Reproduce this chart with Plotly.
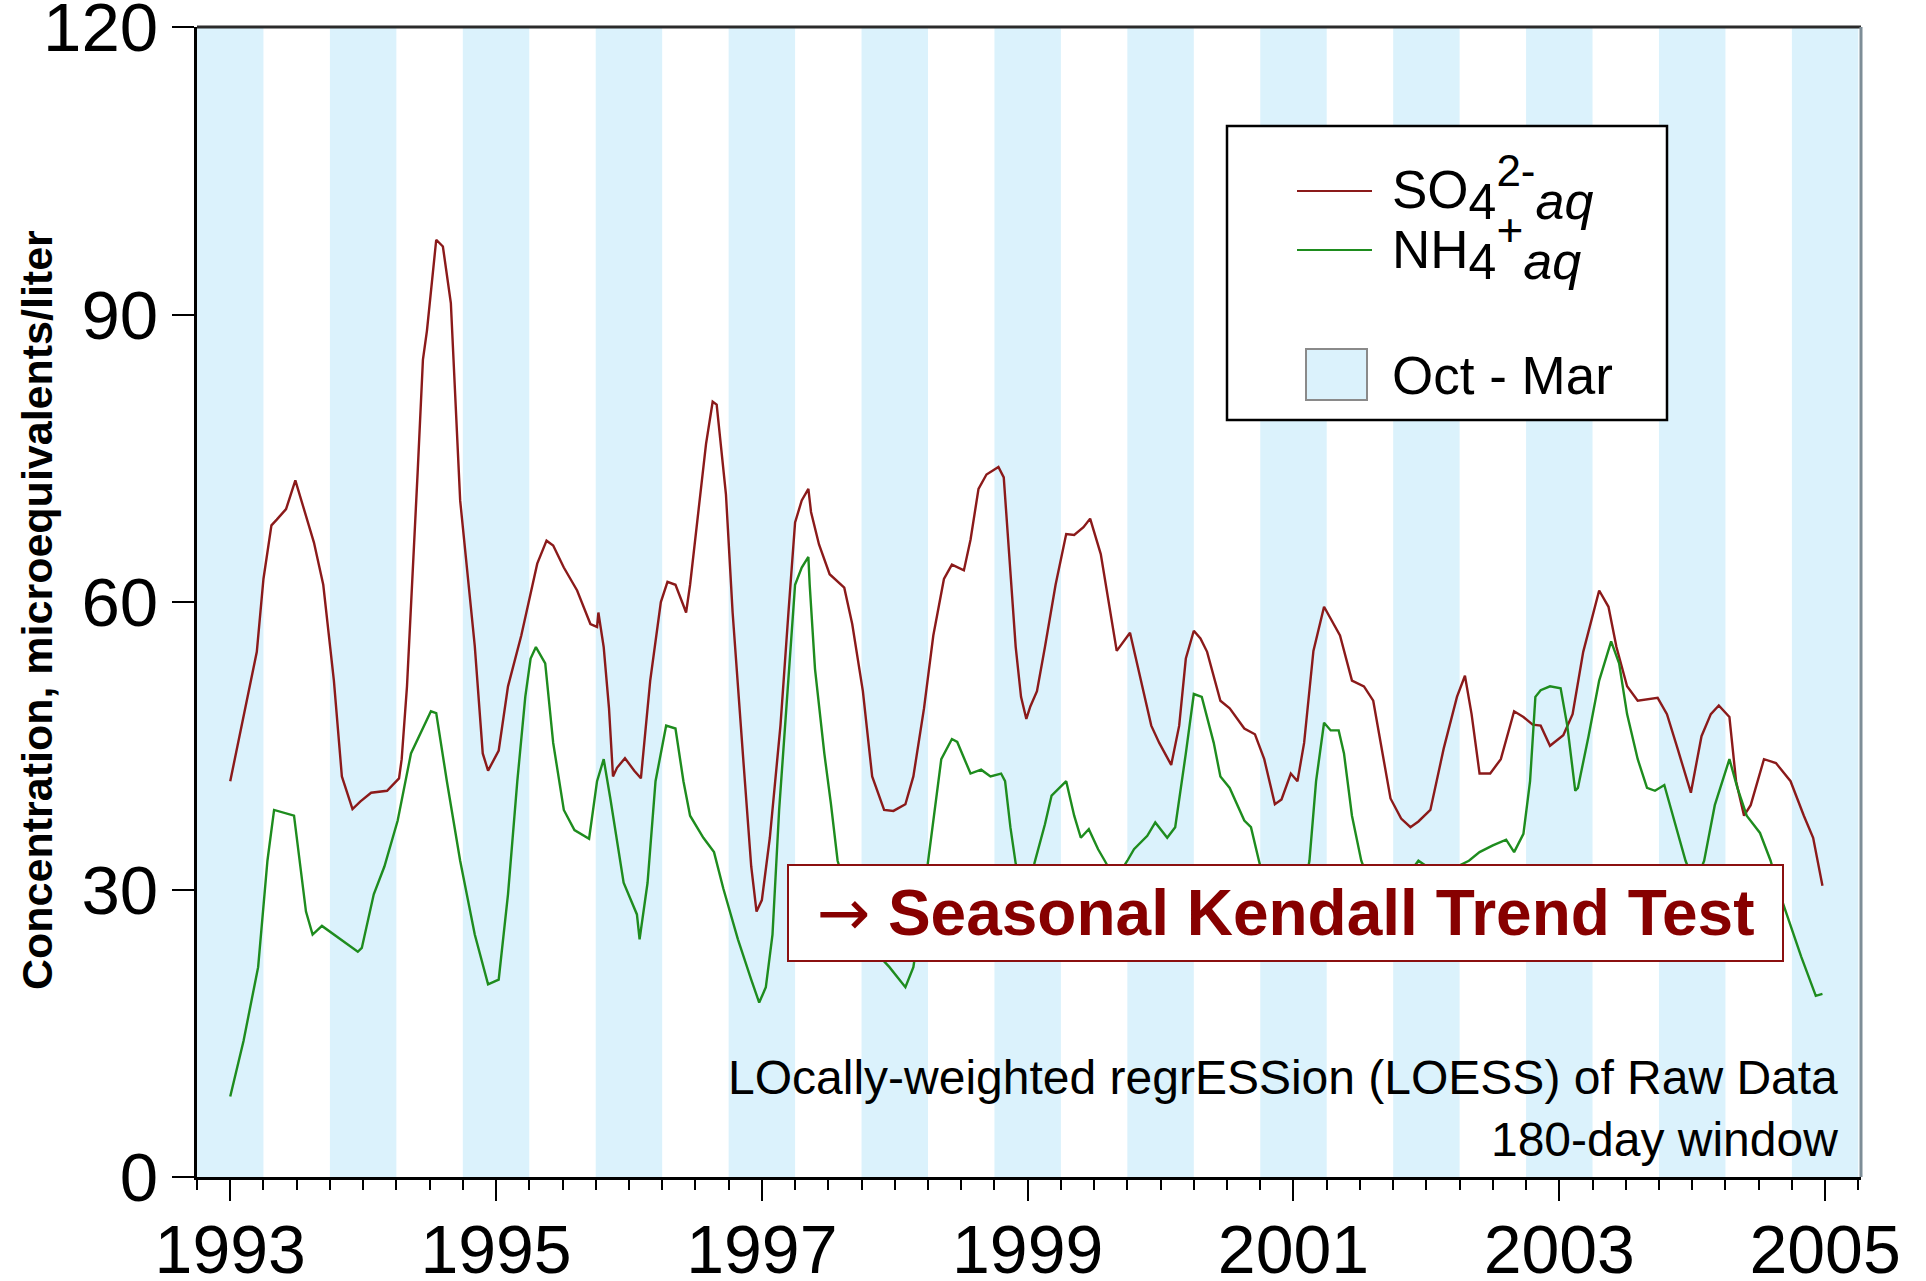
import plotly.graph_objects as go

# ---------------- data ----------------
so4_t = [1993.00, 1993.20, 1993.25, 1993.31, 1993.35, 1993.42, 1993.49, 1993.55, 1993.63, 1993.70,
         1993.78, 1993.84, 1993.92, 1993.98, 1994.06, 1994.18, 1994.27, 1994.29, 1994.33, 1994.41,
         1994.45, 1994.48, 1994.55, 1994.60, 1994.66, 1994.73, 1994.84, 1994.90, 1994.94, 1995.02,
         1995.09, 1995.19, 1995.31, 1995.38, 1995.43, 1995.51, 1995.61, 1995.71, 1995.76, 1995.77,
         1995.81, 1995.85, 1995.88, 1995.91, 1995.97, 1996.04, 1996.09, 1996.16, 1996.24, 1996.29,
         1996.35, 1996.40, 1996.43, 1996.46, 1996.53, 1996.58, 1996.63, 1996.66, 1996.73, 1996.78,
         1996.86, 1996.92, 1996.96, 1997.00, 1997.06, 1997.14, 1997.20, 1997.25, 1997.30, 1997.35,
         1997.37, 1997.43, 1997.51, 1997.62, 1997.68, 1997.76, 1997.83, 1997.92, 1997.99, 1998.08,
         1998.14, 1998.22, 1998.29, 1998.37, 1998.43, 1998.52, 1998.57, 1998.63, 1998.69, 1998.78,
         1998.82, 1998.86, 1998.91, 1998.95, 1998.99, 1999.02, 1999.07, 1999.13, 1999.21, 1999.29,
         1999.35, 1999.42, 1999.47, 1999.55, 1999.62, 1999.67, 1999.77, 1999.85, 1999.93, 1999.99,
         2000.08, 2000.14, 2000.19, 2000.25, 2000.30, 2000.35, 2000.45, 2000.52, 2000.63, 2000.71,
         2000.78, 2000.86, 2000.91, 2000.98, 2001.03, 2001.08, 2001.15, 2001.23, 2001.28, 2001.35,
         2001.44, 2001.53, 2001.60, 2001.67, 2001.73, 2001.81, 2001.88, 2001.94, 2002.03, 2002.13,
         2002.23, 2002.29, 2002.34, 2002.40, 2002.48, 2002.56, 2002.66, 2002.73, 2002.80, 2002.86,
         2002.93, 2003.03, 2003.10, 2003.18, 2003.30, 2003.37, 2003.43, 2003.51, 2003.59, 2003.74,
         2003.81, 2003.89, 2003.99, 2004.07, 2004.14, 2004.20, 2004.28, 2004.33, 2004.39, 2004.44,
         2004.54, 2004.63, 2004.74, 2004.84, 2004.91, 2004.98]
so4_v = [41.3, 54.8, 62.4, 68.0, 68.6, 69.7, 72.7, 70.0, 66.2, 61.8,
         51.8, 41.8, 38.4, 39.2, 40.1, 40.3, 41.6, 43.6, 51.2, 73.5,
         85.3, 88.3, 97.8, 97.1, 91.2, 70.6, 55.4, 44.2, 42.4, 44.5,
         51.2, 56.5, 64.0, 66.4, 65.9, 63.6, 61.2, 57.7, 57.4, 58.9,
         55.3, 48.9, 41.8, 42.7, 43.7, 42.4, 41.6, 51.8, 60.0, 62.1,
         61.8, 60.0, 58.9, 61.8, 70.6, 76.5, 80.9, 80.6, 71.2, 58.9,
         43.6, 32.4, 27.7, 28.9, 35.4, 47.1, 58.9, 68.3, 70.6, 71.8,
         69.4, 66.0, 62.9, 61.5, 57.7, 50.7, 41.8, 38.3, 38.2, 38.9,
         41.8, 48.9, 56.5, 62.4, 63.9, 63.3, 66.5, 71.8, 73.3, 74.1,
         73.0, 64.7, 55.3, 50.1, 47.8, 49.1, 50.7, 55.3, 61.8, 67.1,
         67.0, 67.8, 68.7, 65.0, 58.9, 54.9, 56.8, 51.8, 47.1, 45.3,
         43.0, 47.1, 54.1, 57.0, 56.2, 54.8, 49.7, 48.9, 46.8, 46.2,
         43.6, 38.9, 39.4, 42.1, 41.3, 45.3, 54.9, 59.5, 58.3, 56.5,
         51.8, 51.2, 49.7, 44.2, 39.5, 37.4, 36.5, 37.1, 38.3, 44.7,
         50.1, 52.3, 48.3, 42.1, 42.1, 43.6, 48.6, 48.0, 47.2, 47.1,
         45.0, 46.1, 48.3, 54.8, 61.2, 59.5, 55.3, 51.2, 49.7, 50.0,
         48.3, 44.7, 40.1, 46.0, 48.3, 49.2, 48.0, 41.3, 37.7, 38.8,
         43.6, 43.2, 41.3, 37.7, 35.4, 30.4]

nh4_t = [1993.00, 1993.10, 1993.21, 1993.28, 1993.33, 1993.40, 1993.48, 1993.57, 1993.62, 1993.69,
         1993.78, 1993.86, 1993.96, 1993.99, 1994.08, 1994.16, 1994.26, 1994.36, 1994.46, 1994.51,
         1994.55, 1994.63, 1994.73, 1994.84, 1994.94, 1995.02, 1995.09, 1995.16, 1995.22, 1995.26,
         1995.30, 1995.37, 1995.43, 1995.51, 1995.59, 1995.70, 1995.76, 1995.81, 1995.86, 1995.96,
         1996.06, 1996.08, 1996.14, 1996.20, 1996.28, 1996.35, 1996.41, 1996.46, 1996.56, 1996.64,
         1996.71, 1996.82, 1996.92, 1996.98, 1997.03, 1997.08, 1997.13, 1997.19, 1997.25, 1997.30,
         1997.35, 1997.36, 1997.40, 1997.47, 1997.52, 1997.57, 1997.68, 1997.82, 1997.96, 1998.08,
         1998.14, 1998.20, 1998.25, 1998.35, 1998.43, 1998.47, 1998.57, 1998.65, 1998.72, 1998.80,
         1998.83, 1998.87, 1998.91, 1998.97, 1999.05, 1999.13, 1999.18, 1999.29, 1999.35, 1999.40,
         1999.46, 1999.53, 1999.58, 1999.66, 1999.75, 1999.80, 1999.90, 1999.96, 2000.05, 2000.11,
         2000.19, 2000.25, 2000.31, 2000.40, 2000.45, 2000.52, 2000.63, 2000.68, 2000.74, 2000.85,
         2000.97, 2001.06, 2001.12, 2001.17, 2001.23, 2001.28, 2001.34, 2001.38, 2001.44, 2001.51,
         2001.62, 2001.78, 2001.94, 2002.10, 2002.32, 2002.40, 2002.50, 2002.60, 2002.66, 2002.73,
         2002.78, 2002.82, 2002.86, 2002.93, 2003.01, 2003.06, 2003.12, 2003.14, 2003.22, 2003.30,
         2003.39, 2003.45, 2003.51, 2003.59, 2003.66, 2003.72, 2003.79, 2003.86, 2003.95, 2004.02,
         2004.09, 2004.17, 2004.28, 2004.34, 2004.41, 2004.51, 2004.59, 2004.66, 2004.72, 2004.82,
         2004.93, 2004.98]
nh4_v = [8.4, 14.2, 21.9, 33.0, 38.3, 38.0, 37.7, 27.7, 25.3, 26.2,
         25.3, 24.5, 23.5, 23.9, 29.5, 32.4, 37.2, 44.2, 47.1, 48.6,
         48.4, 41.3, 33.0, 25.3, 20.1, 20.6, 29.5, 41.3, 50.1, 54.1,
         55.3, 53.6, 45.3, 38.3, 36.2, 35.3, 41.3, 43.6, 39.5, 30.7,
         27.4, 24.8, 30.7, 41.3, 47.1, 46.8, 41.3, 37.7, 35.4, 33.9,
         30.1, 24.8, 20.6, 18.2, 19.8, 25.3, 38.3, 50.1, 61.8, 63.6,
         64.7, 61.8, 53.0, 44.2, 38.9, 33.0, 28.0, 24.0, 21.9, 19.8,
         21.9, 27.5, 32.7, 43.6, 45.7, 45.4, 42.1, 42.5, 41.8, 42.1,
         41.3, 36.5, 32.7, 29.5, 32.7, 36.8, 39.8, 41.3, 37.7, 35.4,
         36.3, 34.2, 33.0, 31.0, 33.0, 34.2, 35.6, 37.0, 35.4, 36.5,
         44.2, 50.4, 50.1, 45.3, 41.8, 40.6, 37.2, 36.5, 33.0, 27.0,
         25.0, 28.5, 33.0, 41.3, 47.4, 46.6, 46.6, 44.2, 37.7, 33.0,
         29.0, 30.0, 33.0, 31.5, 33.0, 33.9, 34.6, 35.2, 33.9, 35.8,
         41.3, 50.1, 50.8, 51.2, 51.0, 47.1, 40.3, 40.6, 46.0, 51.8,
         55.9, 53.6, 48.3, 43.6, 40.6, 40.3, 40.9, 37.4, 33.0, 30.5,
         33.0, 38.8, 43.6, 40.6, 37.7, 35.9, 33.0, 29.5, 27.1, 23.0,
         18.9, 19.1]

season_starts = [1992.75, 1993.75, 1994.75, 1995.75, 1996.75, 1997.75, 1998.75,
                 1999.75, 2000.75, 2001.75, 2002.75, 2003.75, 2004.75]
season_len = 0.5
year_ticks = list(range(1993, 2006))
year_labels = [str(y) if (y - 1993) % 2 == 0 else "" for y in year_ticks]
y_ticks = [0, 30, 60, 90, 120]

# ---------------- styling ----------------
W, H = 1926, 1281
L, R, T, B = 197, 1861, 27, 1177
FONT = "Arial, 'Liberation Sans', sans-serif"
RED = "#8b1a1a"
GREEN = "#1e8c1e"
BAND = "#dbf2fc"
DARKRED = "#870000"


def px_x(x):
    return (x - L) / (R - L)


def px_y(y):
    return (B - y) / (B - T)


fig = go.Figure()
fig.add_trace(go.Scatter(x=so4_t, y=so4_v, mode="lines", line=dict(color=RED, width=2.4),
                         name="SO4", showlegend=False))
fig.add_trace(go.Scatter(x=nh4_t, y=nh4_v, mode="lines", line=dict(color=GREEN, width=2.4),
                         name="NH4", showlegend=False))

shapes = []
for s in season_starts:
    shapes.append(dict(type="rect", xref="x", yref="paper", x0=s, x1=s + season_len, y0=0, y1=1,
                       fillcolor=BAND, line=dict(width=0), layer="below"))
# frame top / right
shapes.append(dict(type="line", xref="paper", yref="paper", x0=0, x1=1, y0=1, y1=1,
                   line=dict(color="#2b2b2b", width=3)))
shapes.append(dict(type="line", xref="paper", yref="paper", x0=1, x1=1, y0=0, y1=1,
                   line=dict(color="#7d8d97", width=3)))
# legend box
shapes.append(dict(type="rect", xref="paper", yref="paper", x0=px_x(1227), x1=px_x(1667),
                   y0=px_y(420), y1=px_y(126), fillcolor="white", line=dict(color="black", width=2.5)))
shapes.append(dict(type="line", xref="paper", yref="paper", x0=px_x(1297), x1=px_x(1372),
                   y0=px_y(191), y1=px_y(191), line=dict(color=RED, width=2)))
shapes.append(dict(type="line", xref="paper", yref="paper", x0=px_x(1297), x1=px_x(1372),
                   y0=px_y(250), y1=px_y(250), line=dict(color=GREEN, width=2)))
shapes.append(dict(type="rect", xref="paper", yref="paper", x0=px_x(1306), x1=px_x(1367),
                   y0=px_y(400), y1=px_y(349), fillcolor=BAND, line=dict(color="#8a8a8a", width=2)))

so4_label = ("SO<sub><span style='font-size:50px'>4</span></sub>"
             "<sup><span style='font-size:44px'>2-</span></sup>"
             "<sub><span style='font-size:52px'><i>aq</i></span></sub>")
nh4_label = ("NH<sub><span style='font-size:50px'>4</span></sub>"
             "<sup><span style='font-size:46px'>+</span></sup>"
             "<sub><span style='font-size:52px'><i>aq</i></span></sub>")

annotations = [
    dict(text=so4_label, xref="paper", yref="paper",
         x=px_x(1390), y=px_y(188), xanchor="left", yanchor="middle", showarrow=False,
         font=dict(family=FONT, size=53, color="black")),
    dict(text=nh4_label, xref="paper", yref="paper",
         x=px_x(1390), y=px_y(247), xanchor="left", yanchor="middle", showarrow=False,
         font=dict(family=FONT, size=53, color="black")),
    dict(text="Oct - Mar", xref="paper", yref="paper",
         x=px_x(1390), y=px_y(375), xanchor="left", yanchor="middle", showarrow=False,
         font=dict(family=FONT, size=53, color="black")),
    dict(text="<span style='font-family:DejaVu Sans'>→</span> <b>Seasonal Kendall Trend Test</b>",
         xref="paper", yref="paper",
         x=px_x(1285.5), y=px_y(913), xanchor="center", yanchor="middle", showarrow=False,
         width=993, height=94, align="center", valign="middle",
         bgcolor="white", bordercolor="#8b1010", borderwidth=2, borderpad=0,
         font=dict(family=FONT, size=64, color=DARKRED)),
    dict(text="LOcally-weighted regrESSion (LOESS) of Raw Data<br>180-day window",
         xref="paper", yref="paper", x=px_x(1840), y=0.008, xanchor="right", yanchor="bottom",
         align="right", showarrow=False, font=dict(family=FONT, size=48, color="black")),
    dict(text="<b>Concentration, microequivalents/liter</b>", xref="paper", yref="paper",
         x=px_x(37), y=px_y(610), xanchor="center", yanchor="middle", textangle=-90,
         showarrow=False, font=dict(family=FONT, size=43, color="black")),
]

minor_vals = [y + q for y in range(1992, 2006) for q in (0.0, 0.25, 0.5, 0.75)]

fig.update_layout(
    width=W, height=H,
    margin=dict(l=L, r=W - R, t=T, b=H - B),
    paper_bgcolor="white", plot_bgcolor="white",
    showlegend=False,
    shapes=shapes, annotations=annotations,
    font=dict(family=FONT, color="black"),
    xaxis=dict(range=[1992.75, 2005.27], tickmode="array", tickvals=year_ticks, ticktext=year_labels,
               ticks="outside", ticklen=21, tickwidth=2, tickcolor="black",
               minor=dict(tickmode="array", tickvals=minor_vals, ticks="outside", ticklen=10,
                          tickwidth=1.5, tickcolor="black", showgrid=False),
               showline=True, linecolor="black", linewidth=3, showgrid=False, zeroline=False,
               ticklabeloverflow="allow", ticklabelstandoff=-10,
               tickfont=dict(family=FONT, size=68, color="black"), automargin=False),
    yaxis=dict(range=[0, 120], tickmode="array", tickvals=y_ticks,
               ticks="outside", ticklen=22, tickwidth=2, tickcolor="black",
               showline=True, linecolor="black", linewidth=3, showgrid=False, zeroline=False,
               ticklabeloverflow="allow",
               tickfont=dict(family=FONT, size=69, color="black"), automargin=False),
)

fig.write_html("out.html")
